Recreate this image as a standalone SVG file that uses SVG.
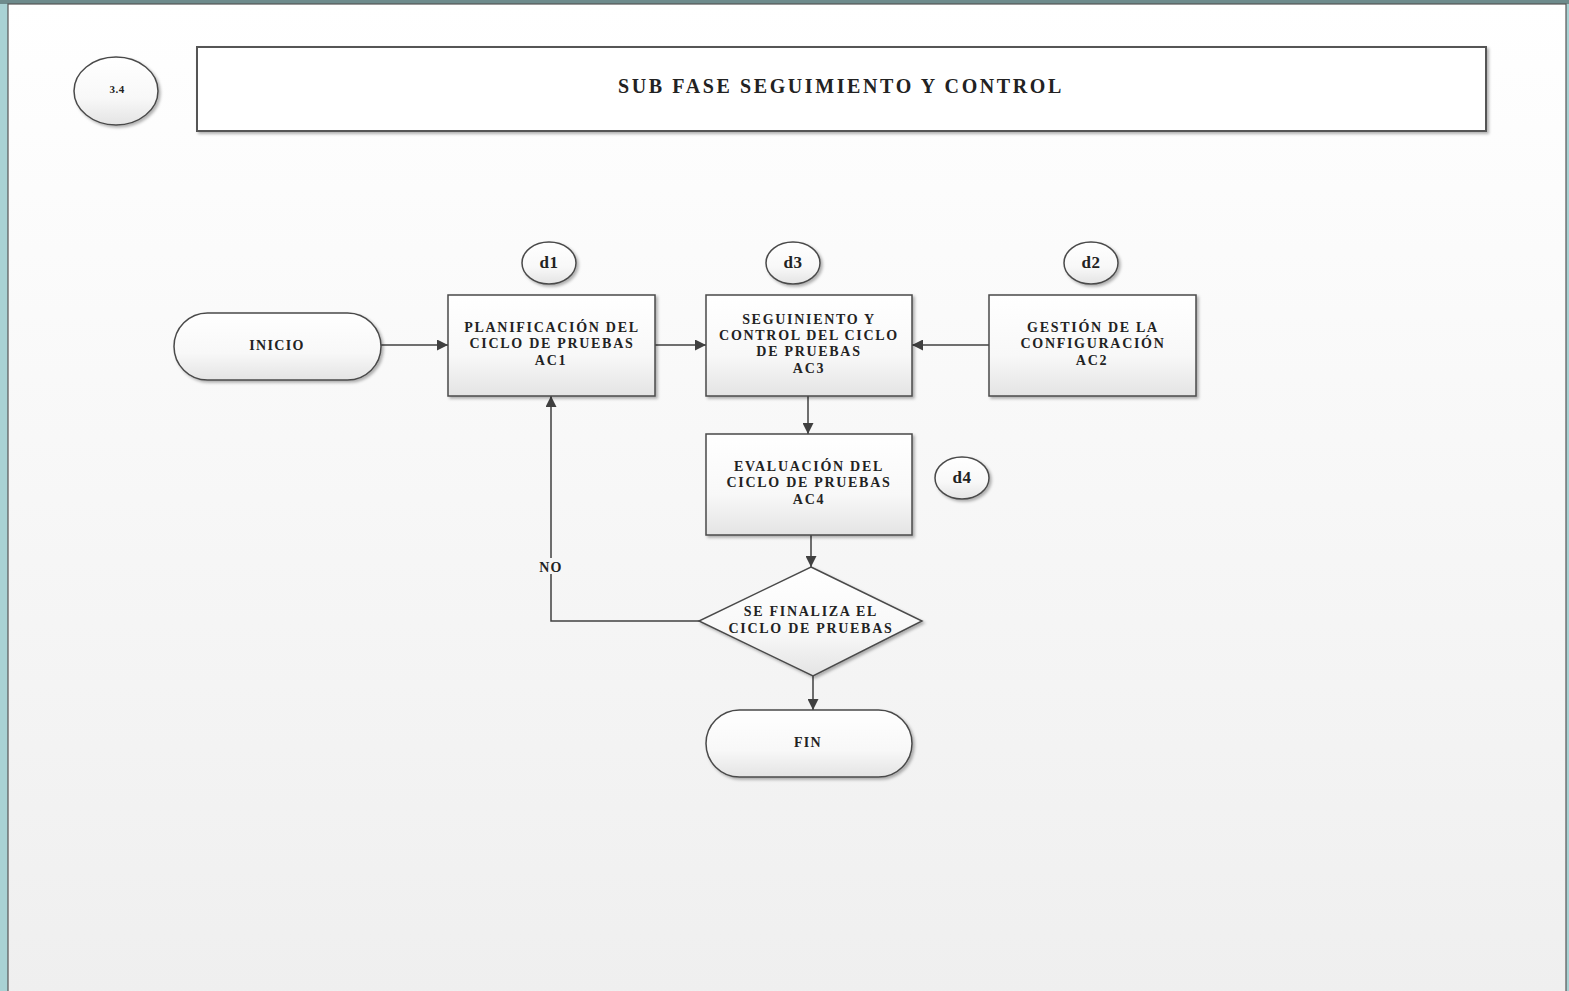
<svg xmlns="http://www.w3.org/2000/svg" width="1569" height="991" viewBox="0 0 1569 991">
  <defs>
    <linearGradient id="page" x1="0" y1="0" x2="0" y2="1">
      <stop offset="0" stop-color="#ffffff"/>
      <stop offset="1" stop-color="#efefef"/>
    </linearGradient>
    <linearGradient id="shape" x1="0" y1="0" x2="0" y2="1">
      <stop offset="0" stop-color="#ffffff"/>
      <stop offset="0.6" stop-color="#f8f8f8"/>
      <stop offset="1" stop-color="#e4e4e4"/>
    </linearGradient>
    <filter id="shadow" x="-10%" y="-10%" width="130%" height="130%">
      <feDropShadow dx="2" dy="2" stdDeviation="1.5" flood-color="#000" flood-opacity="0.3"/>
    </filter>
    <marker id="arrow" viewBox="0 0 10 10" refX="10" refY="5" markerWidth="11" markerHeight="11" markerUnits="userSpaceOnUse" orient="auto">
      <path d="M0,0 L10,5 L0,10 Z" fill="#404040"/>
    </marker>
    <style>
      .box { fill: url(#shape); stroke: #4a4a4a; stroke-width: 1.5; filter: url(#shadow); }
      .lbl { font-family: "Liberation Serif", "Times New Roman", serif; font-weight: bold; font-size: 14px; letter-spacing: 1.7px; fill: #222; text-anchor: middle; }
      .short { letter-spacing: 1.3px; }
      .tag { font-family: "Liberation Serif", "Times New Roman", serif; font-weight: bold; font-size: 17px; letter-spacing: 0.5px; fill: #222; text-anchor: middle; }
      .conn { fill: none; stroke: #404040; stroke-width: 1.5; marker-end: url(#arrow); }
    </style>
  </defs>

  <!-- window frame -->
  <rect x="0" y="0" width="1569" height="991" fill="#a9d2d4"/>
  <rect x="0" y="0" width="1569" height="4" fill="#6e8b8c"/>
  <rect x="8" y="4" width="1558" height="990" fill="url(#page)" stroke="#555" stroke-width="1.2"/>

  <!-- section number -->
  <g id="section">
    <ellipse class="box" cx="116" cy="91" rx="42" ry="34"/>
    <text class="lbl" x="117" y="93" style="font-size:11px;letter-spacing:0.5px">3.4</text>
  </g>

  <!-- title bar -->
  <g id="title">
    <rect x="197" y="47" width="1289" height="84" fill="#ffffff" stroke="#555" stroke-width="2" filter="url(#shadow)"/>
    <text class="lbl" x="841" y="93" style="font-size:20px;letter-spacing:2.6px">SUB FASE SEGUIMIENTO Y CONTROL</text>
  </g>

  <!-- connectors -->
  <g id="connectors">
    <line class="conn" x1="381" y1="345" x2="448" y2="345"/>
    <line class="conn" x1="655" y1="345" x2="706" y2="345"/>
    <line class="conn" x1="989" y1="345" x2="912" y2="345"/>
    <line class="conn" x1="808" y1="396" x2="808" y2="434"/>
    <line class="conn" x1="811" y1="535" x2="811" y2="567"/>
    <line class="conn" x1="813" y1="676" x2="813" y2="710"/>
    <polyline class="conn" points="699,621 551,621 551,396"/>
    <rect x="534" y="558" width="34" height="16" fill="#f6f6f6"/>
    <text class="lbl short" x="551" y="572">NO</text>
  </g>

  <g id="d1">
    <ellipse class="box" cx="549" cy="263" rx="27" ry="21"/>
    <text class="tag" x="549" y="268">d1</text>
  </g>
  <g id="d3">
    <ellipse class="box" cx="793" cy="263" rx="27" ry="21"/>
    <text class="tag" x="793" y="268">d3</text>
  </g>
  <g id="d2">
    <ellipse class="box" cx="1091" cy="263" rx="27" ry="21"/>
    <text class="tag" x="1091" y="268">d2</text>
  </g>
  <g id="d4">
    <ellipse class="box" cx="962" cy="478" rx="27" ry="21"/>
    <text class="tag" x="962" y="483">d4</text>
  </g>

  <g id="inicio">
    <rect class="box" x="174" y="313" width="207" height="67" rx="33.5" ry="33.5"/>
    <text class="lbl short" x="277" y="350">INICIO</text>
  </g>

  <g id="ac1">
    <rect class="box" x="448" y="295" width="207" height="101"/>
    <text class="lbl" x="552" y="332">PLANIFICACIÓN DEL</text>
    <text class="lbl" x="552" y="348">CICLO DE PRUEBAS</text>
    <text class="lbl" x="551" y="365">AC1</text>
  </g>

  <g id="ac3">
    <rect class="box" x="706" y="295" width="206" height="101"/>
    <text class="lbl" x="809" y="324">SEGUINIENTO Y</text>
    <text class="lbl" x="809" y="340">CONTROL DEL CICLO</text>
    <text class="lbl" x="809" y="356">DE PRUEBAS</text>
    <text class="lbl" x="809" y="373">AC3</text>
  </g>

  <g id="ac2">
    <rect class="box" x="989" y="295" width="207" height="101"/>
    <text class="lbl" x="1093" y="332">GESTIÓN DE LA</text>
    <text class="lbl" x="1093" y="348">CONFIGURACIÓN</text>
    <text class="lbl" x="1092" y="365">AC2</text>
  </g>

  <g id="ac4">
    <rect class="box" x="706" y="434" width="206" height="101"/>
    <text class="lbl" x="809" y="471">EVALUACIÓN DEL</text>
    <text class="lbl" x="809" y="487">CICLO DE PRUEBAS</text>
    <text class="lbl" x="809" y="504">AC4</text>
  </g>

  <g id="decision">
    <polygon class="box" points="811,567 922,621 813,676 699,621"/>
    <text class="lbl" x="811" y="616">SE FINALIZA EL</text>
    <text class="lbl" x="811" y="633">CICLO DE PRUEBAS</text>
  </g>

  <g id="fin">
    <rect class="box" x="706" y="710" width="206" height="67" rx="33.5" ry="33.5"/>
    <text class="lbl short" x="808" y="747">FIN</text>
  </g>
</svg>
